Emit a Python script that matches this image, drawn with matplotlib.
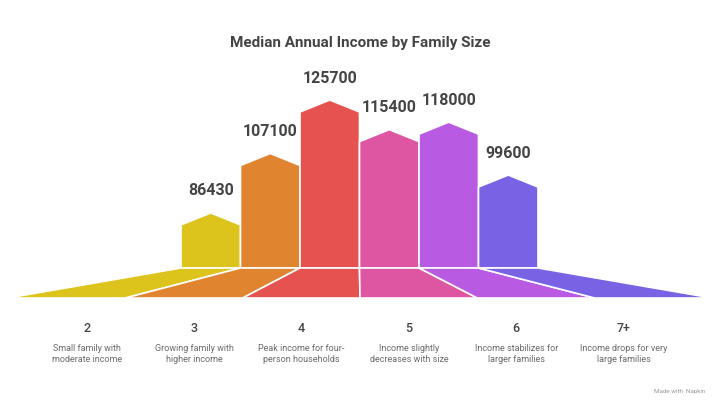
import matplotlib.pyplot as plt
from matplotlib.patches import Polygon

plt.rcParams['font.family'] = ['Roboto', 'DejaVu Sans']

family_size = ['2', '3', '4', '5', '6', '7+']
income = [86430, 107100, 125700, 115400, 118000, 99600]
notes = ['Small family with\nmoderate income',
         'Growing family with\nhigher income',
         'Peak income for four-\nperson households',
         'Income slightly\ndecreases with size',
         'Income stabilizes for\nlarger families',
         'Income drops for very\nlarge families']
colors = ['#DCC41C', '#E0842F', '#E5524F', '#DE56A2', '#B95AE2', '#7A62E5']

fig = plt.figure(figsize=(7.2, 4.04), dpi=100)
ax = fig.add_axes([0, 0, 1, 1])
# x in pixels, y in income units (axis floor near 67k)
base = 67270
px = 0.002875  # pixels per dollar
ax.set_xlim(0, 720)
ax.set_ylim(base - 136 / px, base + 268 / px)
ax.axis('off')

bar_w = 59.5
x0 = 181
peak = 12 / px
floor_h = 30 / px
bot_x0 = 8
bot_w = (712 - 8) / 6

for i, v in enumerate(income):
    l = x0 + i * bar_w
    r = l + bar_w
    pts = [(l, base), (l, v - peak), ((l + r) / 2, v), (r, v - peak), (r, base)]
    ax.add_patch(Polygon(pts, closed=True, fc=colors[i], ec='white', lw=1.2, zorder=2))
    bl = bot_x0 + i * bot_w
    br = bl + bot_w
    fl = [(l, base), (r, base), (br, base - floor_h), (bl, base - floor_h)]
    ax.add_patch(Polygon(fl, closed=True, fc=colors[i], ec='white', lw=1.2, zorder=2))
    ax.text((l + r) / 2, v + 22 / px, str(v), ha='center', va='center',
            fontsize=11.5, fontweight='bold', color='#444444')

lab_x0 = 87
lab_dx = 107.3
for i, (s, n) in enumerate(zip(family_size, notes)):
    fig.text((lab_x0 + i * lab_dx) / 720, 1 - 328 / 404, s, ha='center', va='center',
             fontsize=9, fontweight='medium', color='#444444')
    fig.text((lab_x0 + i * lab_dx) / 720, 1 - 354 / 404, n, ha='center', va='center',
             fontsize=6.5, color='#6a6a6a', linespacing=1.35)

fig.text(0.5, 1 - 43 / 404, 'Median Annual Income by Family Size', ha='center', va='center',
         fontsize=11, fontweight='bold', color='#444444')
fig.text(705 / 720, 1 - 392 / 404, 'Made with  Napkin', ha='right', va='center',
         fontsize=4.5, color='#999999')

fig.savefig('out.png', dpi=100)
